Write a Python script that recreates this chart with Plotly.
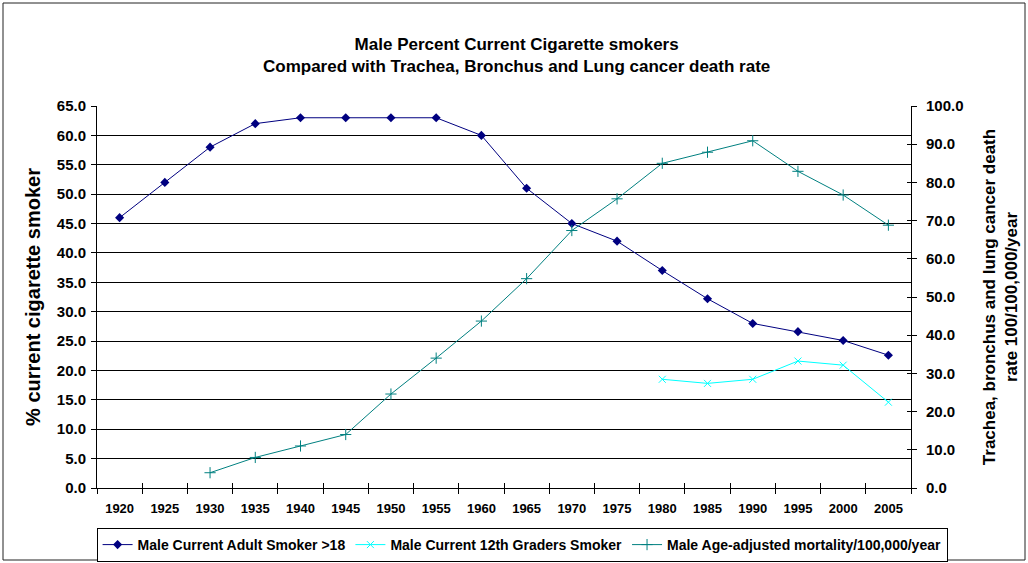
import plotly.graph_objects as go

# Survey years (category axis)
years = ["1920", "1925", "1930", "1935", "1940", "1945", "1950", "1955", "1960",
         "1965", "1970", "1975", "1980", "1985", "1990", "1995", "2000", "2005"]

# % of adult men who currently smoke
adult_smokers = [46.0, 52.0, 58.0, 62.0, 63.0, 63.0, 63.0, 63.0, 60.0,
                 51.0, 45.0, 42.0, 37.0, 32.2, 28.0, 26.6, 25.1, 22.6]

# % of male 12th graders who currently smoke
grade12_smokers = [None, None, None, None, None, None, None, None, None,
                   None, None, None, 18.5, 17.8, 18.5, 21.6, 20.9, 14.6]

# Age-adjusted trachea/bronchus/lung cancer mortality per 100,000
mortality = [None, None, 4.0, 8.0, 11.0, 14.0, 24.6, 34.0, 43.7,
             54.8, 67.4, 75.7, 85.0, 87.9, 90.9, 82.9, 76.7, 68.8]

FONT = "Liberation Sans, Arial, sans-serif"
NAVY = "#000080"
CYAN = "#00FFFF"
TEAL = "#008080"

W, H = 1028, 563
L, R, T, B = 97, 117, 106, 75
pw, ph = W - L - R, H - T - B

fig = go.Figure()

fig.add_trace(go.Scatter(
    x=years, y=adult_smokers, name="Male Current Adult Smoker >18",
    mode="lines+markers", line=dict(color=NAVY, width=1),
    marker=dict(symbol="diamond", size=7, color=NAVY),
))
fig.add_trace(go.Scatter(
    x=years, y=grade12_smokers, name="Male Current 12th Graders Smoker",
    mode="lines+markers", line=dict(color=CYAN, width=1),
    marker=dict(symbol="x-thin", size=7, color=CYAN, line=dict(color=CYAN, width=1)),
))
fig.add_trace(go.Scatter(
    x=years, y=mortality, name="Male Age-adjusted mortality/100,000/year",
    mode="lines+markers", line=dict(color=TEAL, width=1),
    marker=dict(symbol="cross-thin", size=8, color=TEAL, line=dict(color=TEAL, width=1)),
    yaxis="y2",
))

# Empty helper traces so the inner-tick axes (x2, y3) get drawn,
# giving the x axis and right axis tick marks that cross the axis line
fig.add_trace(go.Scatter(x=years, y=[None] * len(years), xaxis="x2", yaxis="y",
                         showlegend=False, hoverinfo="skip"))
fig.add_trace(go.Scatter(x=years, y=[None] * len(years), xaxis="x", yaxis="y3",
                         showlegend=False, hoverinfo="skip"))

# Frame around the whole chart
fig.add_shape(
    type="rect", xref="paper", yref="paper", layer="above",
    x0=(3 - L) / pw, x1=(W - 3 - L) / pw,
    y0=(H - B - (H - 3)) / ph, y1=(H - B - 3) / ph,
    line=dict(color="#222222", width=1), fillcolor="rgba(0,0,0,0)",
)

# Two-line chart title
fig.add_annotation(
    text="Male Percent Current Cigarette smokers<br>Compared with Trachea, Bronchus and Lung cancer death rate",
    xref="paper", yref="paper", x=(W / 2 + 2 - L) / pw, y=(H - B - 55) / ph,
    xanchor="center", yanchor="middle", showarrow=False,
    font=dict(family=FONT, size=17, weight="bold", color="black"),
)

tick_font = dict(family=FONT, size=15, weight="bold", color="black")

fig.update_layout(
    width=W, height=H,
    margin=dict(l=L, r=R, t=T, b=B, autoexpand=False),
    paper_bgcolor="white", plot_bgcolor="white",
    font=dict(family=FONT, size=12, color="black"),
    xaxis=dict(
        type="category", range=[-0.5, 17.5],
        tickson="boundaries", ticks="outside", ticklen=5, tickcolor="black",
        showline=True, linecolor="black", linewidth=1, showgrid=False,
        tickfont=dict(family=FONT, size=13, weight="bold", color="black"),
        ticklabelstandoff=8,
    ),
    xaxis2=dict(
        type="category", range=[-0.5, 17.5], overlaying="x", side="bottom",
        anchor="y", tickson="boundaries", ticks="inside", ticklen=5,
        tickcolor="black", showticklabels=False, showgrid=False,
        showline=False,
    ),
    yaxis=dict(
        range=[0, 65], dtick=5, tickformat=".1f",
        showgrid=True, gridcolor="black", gridwidth=1,
        ticks="outside", ticklen=5, tickcolor="black",
        showline=True, linecolor="black", linewidth=1, zeroline=False,
        tickfont=tick_font, ticklabelstandoff=2,
        title=dict(text="% current cigarette smoker", standoff=10,
                   font=dict(family=FONT, size=20, weight="bold")),
    ),
    yaxis2=dict(
        overlaying="y", side="right",
        range=[0, 100], dtick=10, tickformat=".1f",
        showgrid=False, zeroline=False,
        ticks="outside", ticklen=5, tickcolor="black",
        showline=True, linecolor="black", linewidth=1,
        tickfont=tick_font, ticklabelstandoff=6,
        title=dict(text="Trachea, bronchus and lung cancer death<br>rate 100/100,000/year",
                   standoff=20, font=dict(family=FONT, size=17, weight="bold")),
    ),
    yaxis3=dict(
        overlaying="y", side="right", anchor="x",
        range=[0, 100], dtick=10, showticklabels=False,
        showgrid=False, zeroline=False, showline=False,
        ticks="inside", ticklen=4, tickcolor="black",
    ),
    # Slightly negative x lets the one-row legend extend past the plot area
    legend=dict(
        orientation="h", x=-0.0005, xanchor="left",
        y=(H - B - 528) / ph, yanchor="top",
        bgcolor="white", bordercolor="black", borderwidth=1,
        font=dict(family=FONT, size=14, weight="bold", color="black"),
        itemwidth=30, tracegroupgap=0,
    ),
    showlegend=True,
)

fig.write_html("out.html")
